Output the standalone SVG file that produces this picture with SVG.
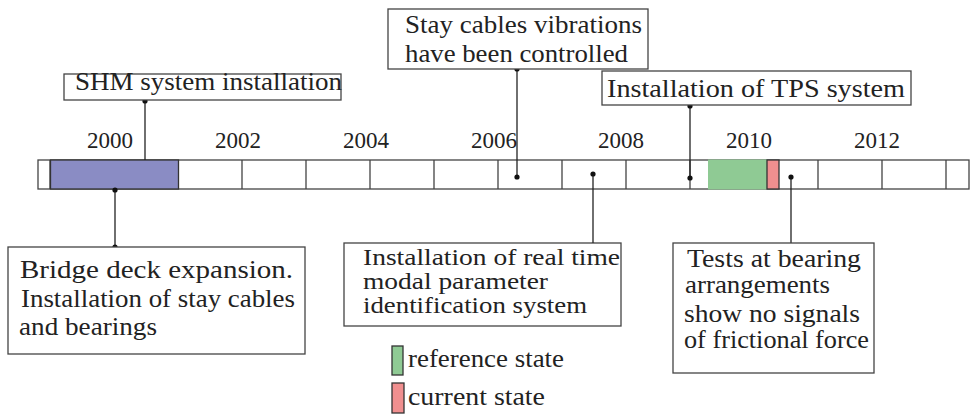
<svg xmlns="http://www.w3.org/2000/svg" width="971" height="414" viewBox="0 0 971 414">
<style>
.box{fill:#fff;stroke:#444;stroke-width:1.3}
.cell{fill:none;stroke:#444;stroke-width:1.3}
.ln{stroke:#222;stroke-width:1.3}
.dot{fill:#111}
.t{font-family:'Liberation Serif',serif;font-size:25px;fill:#222}
.s{font-family:'Liberation Serif',serif;font-size:23px;fill:#222}
.y{font-family:'Liberation Serif',serif;font-size:23px;fill:#222;text-anchor:middle}
</style>
<rect width="971" height="414" fill="#fff"/>
<g id="timeline">
<rect x="38" y="160" width="931" height="29" class="cell"/>
<path class="cell" d="M50 160V189M114 160V189M178 160V189M242 160V189M306 160V189M370 160V189M434 160V189M498 160V189M562 160V189M626 160V189M690 160V189M754 160V189M818 160V189M882 160V189M946 160V189"/>
<rect x="50.5" y="160" width="128" height="29" fill="#8a8cc4" stroke="#333" stroke-width="1.3"/>
<rect x="708" y="159.5" width="59" height="30" fill="#8fca94"/>
<rect x="767" y="160" width="12" height="29" fill="#f08f8f" stroke="#333" stroke-width="1.3"/>
<text class="y" style="font-family:'Liberation Serif',serif" x="110" y="148">2000</text>
<text class="y" style="font-family:'Liberation Serif',serif" x="238" y="148">2002</text>
<text class="y" style="font-family:'Liberation Serif',serif" x="366" y="148">2004</text>
<text class="y" style="font-family:'Liberation Serif',serif" x="494" y="148">2006</text>
<text class="y" style="font-family:'Liberation Serif',serif" x="621" y="148">2008</text>
<text class="y" style="font-family:'Liberation Serif',serif" x="749" y="148">2010</text>
<text class="y" style="font-family:'Liberation Serif',serif" x="877" y="148">2012</text>
</g>
<g id="connectors">
<line class="ln" x1="145" y1="101" x2="145" y2="160"/>
<circle class="dot" cx="145" cy="101" r="2.6"/>
<line class="ln" x1="115" y1="189" x2="115" y2="247"/>
<circle class="dot" cx="115" cy="190" r="2.6"/>
<circle class="dot" cx="115" cy="247" r="2.6"/>
<line class="ln" x1="517" y1="69" x2="517" y2="177"/>
<circle class="dot" cx="517" cy="177" r="2.6"/>
<circle class="dot" cx="517" cy="69" r="2.6"/>
<line class="ln" x1="593" y1="174" x2="593" y2="245"/>
<circle class="dot" cx="593" cy="174" r="2.6"/>
<circle class="dot" cx="593" cy="245" r="2.6"/>
<line class="ln" x1="690" y1="105" x2="690" y2="178"/>
<circle class="dot" cx="690" cy="178" r="2.6"/>
<circle class="dot" cx="690" cy="106" r="2.6"/>
<line class="ln" x1="791" y1="177" x2="791" y2="245"/>
<circle class="dot" cx="791" cy="177" r="2.6"/>
<circle class="dot" cx="791" cy="246" r="2.6"/>
</g>
<g id="shm">
<rect class="box" x="64" y="74" width="277" height="26"/>
<text class="t" style="font-family:'Liberation Serif',serif" x="75" y="90" textLength="267" lengthAdjust="spacingAndGlyphs">SHM system installation</text>
</g>
<g id="stay">
<rect class="box" x="388" y="9" width="260" height="60"/>
<text class="t" style="font-family:'Liberation Serif',serif" x="405" y="33" textLength="237" lengthAdjust="spacingAndGlyphs">Stay cables vibrations</text>
<text class="t" style="font-family:'Liberation Serif',serif" x="405" y="62" textLength="223" lengthAdjust="spacingAndGlyphs">have been controlled</text>
</g>
<g id="tps">
<rect class="box" x="602" y="71" width="309" height="34"/>
<text class="t" style="font-family:'Liberation Serif',serif" x="607" y="97" textLength="298" lengthAdjust="spacingAndGlyphs">Installation of TPS system</text>
</g>
<g id="bridge">
<rect class="box" x="8" y="247" width="297" height="107"/>
<text class="t" style="font-family:'Liberation Serif',serif" x="20" y="278" textLength="273" lengthAdjust="spacingAndGlyphs">Bridge deck expansion.</text>
<text class="t" style="font-family:'Liberation Serif',serif" x="21" y="307" textLength="274" lengthAdjust="spacingAndGlyphs">Installation of stay cables</text>
<text class="t" style="font-family:'Liberation Serif',serif" x="19" y="335" textLength="138" lengthAdjust="spacingAndGlyphs">and bearings</text>
</g>
<g id="realtime">
<rect class="box" x="344" y="243" width="277" height="83"/>
<text class="s" style="font-family:'Liberation Serif',serif" x="363" y="265" textLength="257" lengthAdjust="spacingAndGlyphs">Installation of real time</text>
<text class="s" style="font-family:'Liberation Serif',serif" x="363" y="289" textLength="185" lengthAdjust="spacingAndGlyphs">modal parameter</text>
<text class="s" style="font-family:'Liberation Serif',serif" x="363" y="313" textLength="224" lengthAdjust="spacingAndGlyphs">identification system</text>
</g>
<g id="tests">
<rect class="box" x="673" y="243" width="201" height="130"/>
<text class="t" style="font-family:'Liberation Serif',serif" x="687" y="267" textLength="174" lengthAdjust="spacingAndGlyphs">Tests at bearing</text>
<text class="t" style="font-family:'Liberation Serif',serif" x="685" y="293" textLength="145" lengthAdjust="spacingAndGlyphs">arrangements</text>
<text class="t" style="font-family:'Liberation Serif',serif" x="684" y="322" textLength="176" lengthAdjust="spacingAndGlyphs">show no signals</text>
<text class="t" style="font-family:'Liberation Serif',serif" x="684" y="348" textLength="185" lengthAdjust="spacingAndGlyphs">of frictional force</text>
</g>
<g id="legend">
<rect x="392" y="346" width="11" height="29" fill="#8fca94" stroke="#333" stroke-width="1.3"/>
<text class="t" style="font-family:'Liberation Serif',serif" x="408" y="367" textLength="156" lengthAdjust="spacingAndGlyphs">reference state</text>
<rect x="392" y="383" width="12" height="30" fill="#f08f8f" stroke="#333" stroke-width="1.3"/>
<text class="t" style="font-family:'Liberation Serif',serif" x="408" y="405" textLength="137" lengthAdjust="spacingAndGlyphs">current state</text>
</g>
</svg>
